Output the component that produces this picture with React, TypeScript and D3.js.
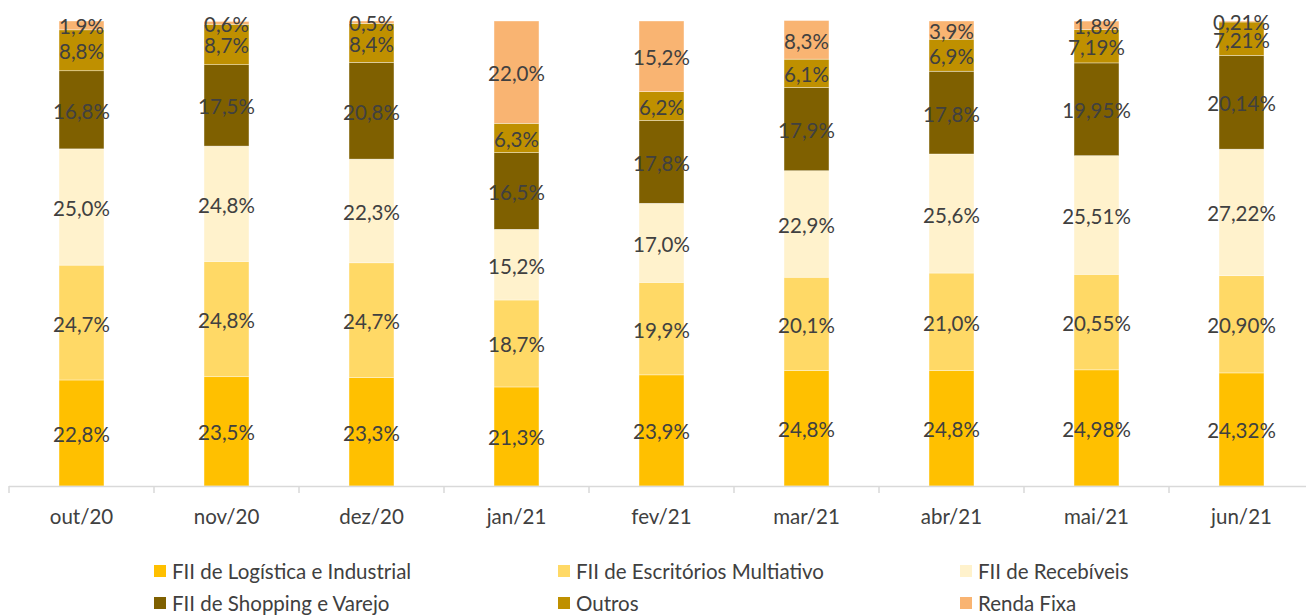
import React from "react";
import * as d3 from "d3";

const months = ["out/20", "nov/20", "dez/20", "jan/21", "fev/21", "mar/21", "abr/21", "mai/21", "jun/21"];
const seriesNames = [
  "FII de Logística e Industrial",
  "FII de Escritórios Multiativo",
  "FII de Recebíveis",
  "FII de Shopping e Varejo",
  "Outros",
  "Renda Fixa",
];
const seriesColors = ["#FFC000", "#FFD966", "#FFF2CC", "#7F6000", "#BF9000", "#F9B472"];

const logistica = ["22,8", "23,5", "23,3", "21,3", "23,9", "24,8", "24,8", "24,98", "24,32"];
const escritorios = ["24,7", "24,8", "24,7", "18,7", "19,9", "20,1", "21,0", "20,55", "20,90"];
const recebiveis = ["25,0", "24,8", "22,3", "15,2", "17,0", "22,9", "25,6", "25,51", "27,22"];
const shopping = ["16,8", "17,5", "20,8", "16,5", "17,8", "17,9", "17,8", "19,95", "20,14"];
const outros = ["8,8", "8,7", "8,4", "6,3", "6,2", "6,1", "6,9", "7,19", "7,21"];
const rendaFixa = ["1,9", "0,6", "0,5", "22,0", "15,2", "8,3", "3,9", "1,8", "0,21"];

const seriesLabels = [logistica, escritorios, recebiveis, shopping, outros, rendaFixa];
const toNum = (s: string) => parseFloat(s.replace(",", "."));

const W = 1306;
const H = 615;
const FONT = "Lato, 'Open Sans', sans-serif";
const TEXT = "#404040";
const FS = 20.5;

export default function App() {
  const bandStart = 9;
  const bandW = 145;
  const x = d3
    .scaleBand<string>()
    .domain(months)
    .range([bandStart, bandStart + bandW * months.length])
    .paddingInner(0.69)
    .paddingOuter(0.345);
  const y = d3.scaleLinear().domain([0, 100]).range([486, 21]);

  const rows = months.map((m, i) => {
    const r: any = { month: m };
    seriesNames.forEach((s, k) => (r[s] = toNum(seriesLabels[k][i])));
    return r;
  });
  const stacked = d3.stack<any>().keys(seriesNames)(rows);

  const ticks = d3.range(months.length + 1).map((i) => bandStart + i * bandW);

  const legendCols = [154, 558, 960];
  const legendRows = [571, 603];

  return (
    <svg width={W} height={H} style={{ position: "absolute", left: 0, top: 0, background: "#fff" }}>
      {stacked.map((layer, k) => (
        <g key={k}>
          {layer.map((d, i) => (
            <rect
              key={i}
              x={x(months[i])!}
              width={x.bandwidth()}
              y={y(d[1])}
              height={Math.max(0, y(d[0]) - y(d[1]))}
              fill={seriesColors[k]}
              stroke="#fff"
              strokeOpacity={0.6}
              strokeWidth={0.6}
            />
          ))}
        </g>
      ))}
      {stacked.map((layer, k) => (
        <g key={"l" + k}>
          {layer.map((d, i) => (
            <text
              key={i}
              x={x(months[i])! + x.bandwidth() / 2}
              y={(y(d[0]) + y(d[1])) / 2 + 1}
              textAnchor="middle"
              dominantBaseline="central"
              fontFamily={FONT}
              fontSize={FS}
              fill={TEXT}
            >
              {seriesLabels[k][i]}%
            </text>
          ))}
        </g>
      ))}
      <line x1={bandStart} x2={W} y1={486.5} y2={486.5} stroke="#D9D9D9" strokeWidth={1.5} />
      {ticks.map((t, i) => (
        <line key={i} x1={t} x2={t} y1={486} y2={493} stroke="#D9D9D9" strokeWidth={1.5} />
      ))}
      {months.map((m) => (
        <text
          key={m}
          x={x(m)! + x.bandwidth() / 2}
          y={516}
          textAnchor="middle"
          dominantBaseline="central"
          fontFamily={FONT}
          fontSize={FS}
          fill={TEXT}
        >
          {m}
        </text>
      ))}
      {seriesNames.map((s, k) => {
        const cx = legendCols[k % 3];
        const cy = legendRows[Math.floor(k / 3)];
        return (
          <g key={s}>
            <rect x={cx} y={cy - 6} width={12} height={12} fill={seriesColors[k]} />
            <text x={cx + 18} y={cy} dominantBaseline="central" fontFamily={FONT} fontSize={FS} fill={TEXT}>
              {s}
            </text>
          </g>
        );
      })}
    </svg>
  );
}
